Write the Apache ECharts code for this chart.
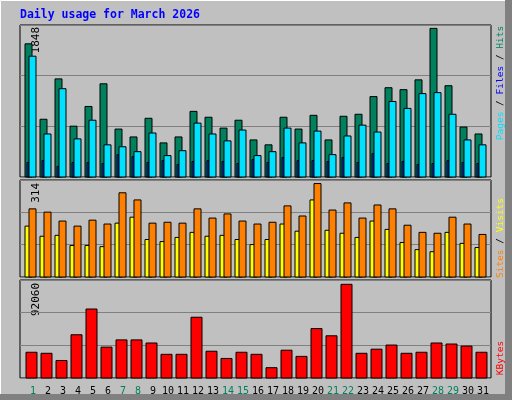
<!DOCTYPE html>
<html><head><meta charset="utf-8">
<script src="https://cdn.jsdelivr.net/npm/echarts@6/dist/echarts.min.js"></script>
<style>html,body{margin:0;padding:0;background:#c0c0c0}#c{width:512px;height:400px}</style>
</head><body><div id="c"></div>
<script>
const days = Array.from({length:31},(_,i)=>i+1);
const weekendDays = [1,7,8,14,15,21,22,28,29];
const hits  = [1656,718,1220,632,877,1159,596,498,730,424,498,816,743,608,706,461,400,743,596,767,461,755,780,1000,1110,1086,1208,1848,1135,621,535];
const files = [1502,535,1098,474,706,400,376,315,547,266,327,670,535,449,584,266,315,608,424,571,278,510,645,559,939,853,1037,1049,780,461,400];
const pages = [180,204,131,180,180,168,278,253,180,204,155,192,204,192,168,217,180,241,204,204,192,241,180,290,168,192,155,168,204,180,168];
const sites = [171,137,140,106,106,102,181,201,126,119,133,150,137,140,126,109,126,178,154,259,157,147,133,188,160,116,92,85,150,113,99];
const visits= [229,218,188,171,191,178,283,259,181,184,181,229,198,212,188,178,184,239,205,314,225,249,198,242,229,174,150,147,201,178,143];
const kbytes= [25290,24280,17200,42490,67780,30350,37430,37430,34390,23270,23270,59690,26300,19220,25290,23270,10120,27310,21240,48560,41480,92060,24280,28320,32370,24280,25290,34390,33380,31360,25290];
const topLabels = ['1848','314','92060'];

const chart = echarts.init(document.getElementById('c'),null,{renderer:'canvas'});
function barSeries(idx, vals, color, x0, x1){
  return {type:'custom', xAxisIndex:idx, yAxisIndex:idx, z:5,
    data: days.map((d,i)=>[d, vals[i]]),
    renderItem:(p,api)=>{
      const top = api.coord([api.value(0), api.value(1)]);
      const base = api.coord([api.value(0), 0]);
      return {type:'rect', shape:{x:top[0]+x0, y:top[1], width:x1-x0, height:base[1]-top[1]},
        style:{fill:color, stroke:'#000', lineWidth:1}};
    }};
}
const grids = [{left:20,width:471,top:25,height:152},{left:20,width:471,top:180,height:97},{left:20,width:471,top:280,height:98}];
const ymax = [1890,326,96290];
const mono = 'DejaVu Sans Mono';
chart.setOption({
  animation:false,
  backgroundColor:'#c0c0c0',
  grid: grids.map(g=>Object.assign({show:true,borderColor:'#000',borderWidth:1,backgroundColor:'#c0c0c0'},g)),
  xAxis: grids.map((g,i)=>({gridIndex:i,type:'value',min:0.133,max:31.533,
    axisLine:{show:false},axisTick:{show:false},splitLine:{show:false},
    axisLabel: i===2 ? {show:true, customValues:days, margin:8, fontFamily:mono, fontSize:10,
      formatter:v=>weekendDays.includes(v)?'{g|'+v+'}':'{k|'+v+'}',
      rich:{g:{color:'#00805c',fontFamily:mono,fontSize:10},k:{color:'#000',fontFamily:mono,fontSize:10}}} : {show:false}})),
  yAxis: grids.map((g,i)=>({gridIndex:i,type:'value',min:0,max:ymax[i],interval:ymax[i]/3,
    axisLine:{show:false},axisTick:{show:false},axisLabel:{show:false},
    splitLine:{show:true,lineStyle:{color:'#808080',width:1}}})),
  series:[
    barSeries(0,hits,'#00805c',-8,-1),
    barSeries(0,pages,'#0040ff',-6,-4),
    barSeries(0,files,'#00e0ff',-4,3),
    barSeries(1,sites,'#ffff00',-8,-1),
    barSeries(1,visits,'#ff8000',-4,3),
    barSeries(2,kbytes,'#ff0000',-7,4)
  ],
  graphic:[
    {type:'rect',shape:{x:0.5,y:0.5,width:510,height:398},style:{fill:null,stroke:'#ffffff',lineWidth:1},z:0},
    {type:'rect',shape:{x:505,y:0,width:7,height:400},style:{fill:'#808080'},z:0},
    {type:'rect',shape:{x:0,y:394,width:512,height:6},style:{fill:'#808080'},z:0},
    {type:'text',x:20,y:9,style:{text:'Daily usage for March 2026',fill:'#0000ff',font:'bold 11.5px "DejaVu Sans Mono"'}},
    {type:'text',x:42,y:27,rotation:Math.PI/2,style:{text:topLabels[0],fill:'#000',font:'11px "DejaVu Sans Mono"',align:'right',verticalAlign:'bottom'}},
    {type:'text',x:42,y:183,rotation:Math.PI/2,style:{text:topLabels[1],fill:'#000',font:'11px "DejaVu Sans Mono"',align:'right',verticalAlign:'bottom'}},
    {type:'text',x:42,y:283,rotation:Math.PI/2,style:{text:topLabels[2],fill:'#000',font:'11px "DejaVu Sans Mono"',align:'right',verticalAlign:'bottom'}},
    {type:'text',x:506,y:83,rotation:Math.PI/2,style:{text:'{p|Pages} / {f|Files} / {h|Hits}',align:'center',verticalAlign:'bottom',font:'9.5px "DejaVu Sans Mono"',fill:'#000',
      rich:{p:{fill:'#00e0ff',font:'9.5px "DejaVu Sans Mono"'},f:{fill:'#0000ff',font:'9.5px "DejaVu Sans Mono"'},h:{fill:'#00805c',font:'9.5px "DejaVu Sans Mono"'}}}},
    {type:'text',x:506,y:238,rotation:Math.PI/2,style:{text:'{s|Sites} / {v|Visits}',align:'center',verticalAlign:'bottom',font:'9.5px "DejaVu Sans Mono"',fill:'#000',
      rich:{s:{fill:'#ff8000',font:'9.5px "DejaVu Sans Mono"'},v:{fill:'#ffff00',font:'9.5px "DejaVu Sans Mono"'}}}},
    {type:'text',x:506,y:358,rotation:Math.PI/2,style:{text:'KBytes',align:'center',verticalAlign:'bottom',font:'9.5px "DejaVu Sans Mono"',fill:'#ff0000'}}
  ]
});
</script></body></html>
